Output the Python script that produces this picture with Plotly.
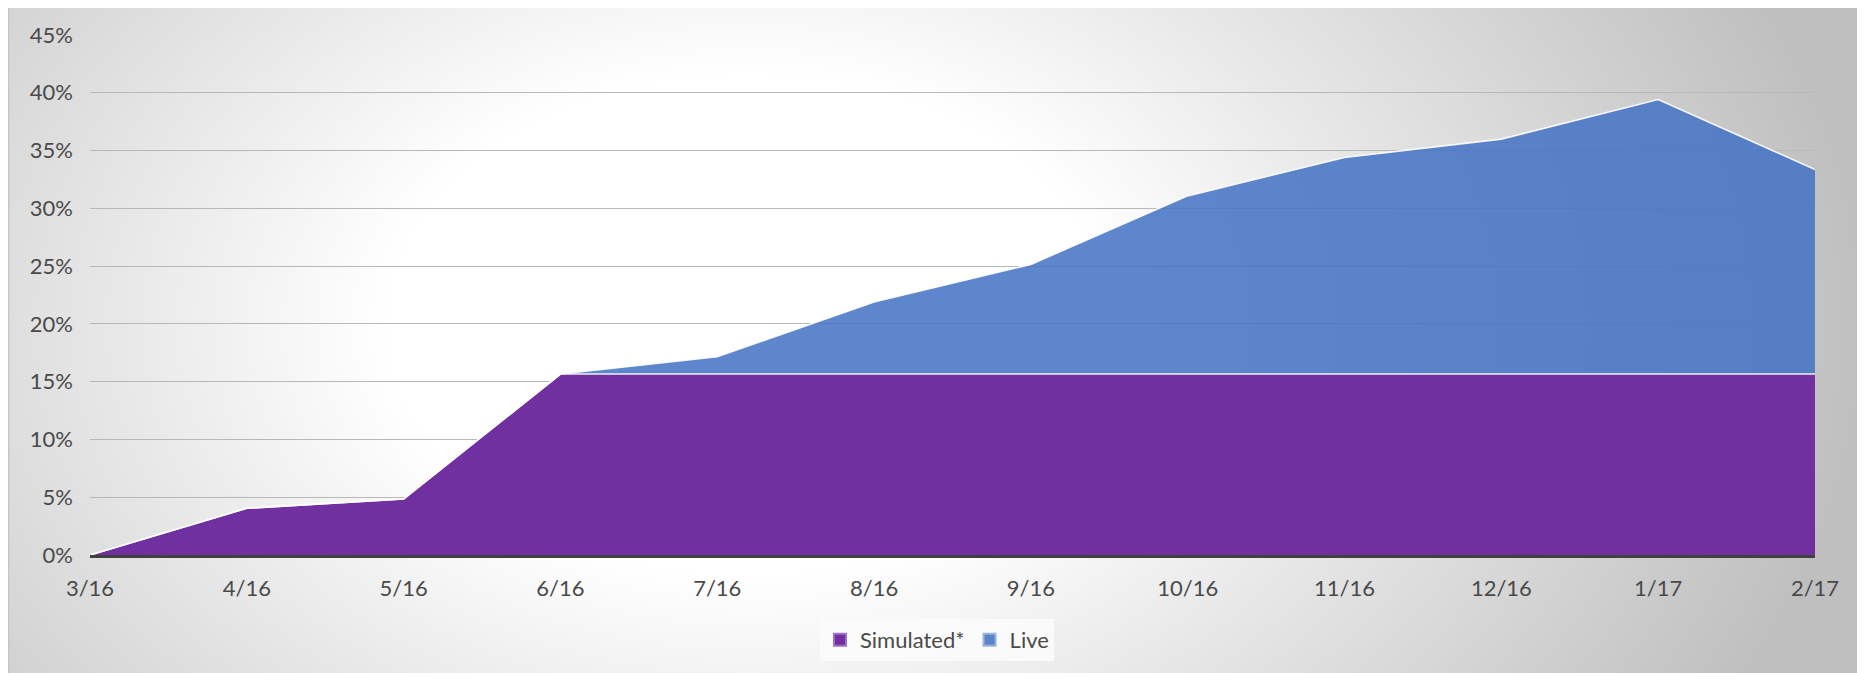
import base64
import plotly.graph_objects as go

months = ["3/16", "4/16", "5/16", "6/16", "7/16", "8/16", "9/16", "10/16", "11/16", "12/16", "1/17", "2/17"]
simulated = [0.0, 4.04, 4.84, 15.66, 15.66, 15.66, 15.66, 15.66, 15.66, 15.66, 15.66, 15.66]
live = [0.0, 0.0, 0.0, 0.0, 1.49, 6.24, 9.49, 15.42, 18.74, 20.33, 23.76, 17.70]
y_ticks = [0, 5, 10, 15, 20, 25, 30, 35, 40, 45]
y_tick_labels = [f"{v}%" for v in y_ticks]

PURPLE = "#7030A0"
BLUE = "rgba(68,114,196,0.86)"
BLUE_SOLID = "#5B84C8"
TEXT = "#4a4a4a"
FONT = "Lato"
FS = 22

# page has an 8px body margin: figure sized to fit the window
W, H = 1857, 665
L, R, T, B = 82, 50, 27, 118
plot_w = W - L - R
plot_h = H - T - B

# radial-gradient background (chart area) as an SVG image
bg_x0, bg_y0 = 0, -3
bg_w, bg_h = W - bg_x0, H - bg_y0
svg = f'''<svg xmlns="http://www.w3.org/2000/svg" width="{bg_w}" height="{bg_h}" viewBox="0 0 {bg_w} {bg_h}" preserveAspectRatio="none">
<defs><radialGradient id="g" gradientUnits="userSpaceOnUse" cx="0" cy="0" r="1" gradientTransform="translate(740 320) scale(1120 780)">
<stop offset="0" stop-color="#ffffff"/><stop offset="0.32" stop-color="#ffffff"/><stop offset="0.56" stop-color="#e8e8e8"/><stop offset="1" stop-color="#bfbfbf"/>
</radialGradient></defs>
<rect x="0" y="0" width="{bg_w}" height="{bg_h}" fill="url(#g)"/>
<line x1="0" y1="0.5" x2="{bg_w}" y2="0.5" stroke="#bdbdbd" stroke-width="1.5"/>
<line x1="0.5" y1="0" x2="0.5" y2="{bg_h}" stroke="#c4c4c4" stroke-width="1.5"/>
</svg>'''
src = "data:image/svg+xml;base64," + base64.b64encode(svg.encode()).decode()

fig = go.Figure()
fig.add_trace(go.Scatter(x=months, y=simulated, mode="lines", stackgroup="one", name="Simulated*",
                         line=dict(color="rgba(255,255,255,0.9)", width=1.6), fillcolor=PURPLE,
                         showlegend=False, hoverinfo="skip"))
fig.add_trace(go.Scatter(x=months, y=live, mode="lines", stackgroup="one", name="Live",
                         line=dict(color="rgba(255,255,255,0.9)", width=1.6), fillcolor=BLUE,
                         showlegend=False, hoverinfo="skip"))
# legend entries
fig.add_trace(go.Scatter(x=[None], y=[None], mode="markers", name="Simulated*",
                         marker=dict(symbol="square", size=15, color=PURPLE, line=dict(color="#9e6fc4", width=1))))
fig.add_trace(go.Scatter(x=[None], y=[None], mode="markers", name="Live",
                         marker=dict(symbol="square", size=15, color=BLUE_SOLID, line=dict(color="#9ab4e0", width=1))))

fig.update_layout(
    width=W, height=H,
    margin=dict(l=L, r=R, t=T, b=B),
    paper_bgcolor="white",
    plot_bgcolor="rgba(0,0,0,0)",
    font=dict(family=FONT, size=FS, color=TEXT),
    images=[dict(source=src, xref="paper", yref="paper",
                 x=(bg_x0 - L) / plot_w, y=1 + (T - bg_y0) / plot_h,
                 sizex=bg_w / plot_w, sizey=bg_h / plot_h,
                 xanchor="left", yanchor="top", sizing="stretch", layer="below")],
    showlegend=True,
    legend=dict(orientation="h", x=(929 - L) / plot_w, xanchor="center",
                y=-(632 - (H - B)) / plot_h, yanchor="middle",
                bgcolor="rgba(252,252,252,0.85)", font=dict(family=FONT, size=FS, color=TEXT),
                itemsizing="constant", traceorder="normal"),
    xaxis=dict(type="category", range=[0, len(months) - 1], showgrid=False, zeroline=False,
               showline=True, linecolor="#404040", linewidth=3, ticks="",
               ticklabelstandoff=12, tickfont=dict(family=FONT, size=FS, color=TEXT)),
    yaxis=dict(range=[0, 45], tickvals=y_ticks, ticktext=y_tick_labels, showgrid=True,
               gridcolor="#b8b8b8", gridwidth=1.2, zeroline=False, showline=False, ticks="",
               ticklabelstandoff=16, tickfont=dict(family=FONT, size=FS, color=TEXT)),
)

fig.write_html("out.html")
